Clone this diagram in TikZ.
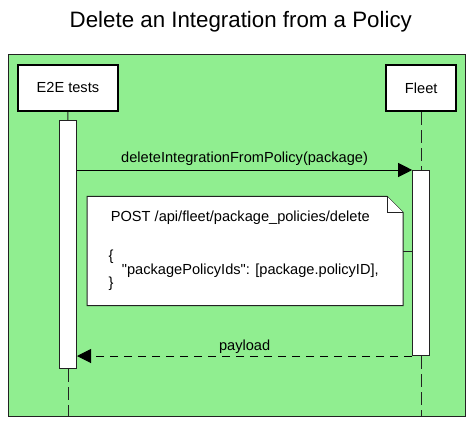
\documentclass[tikz,border=0pt]{standalone}
\usepackage{fontspec}
\setmainfont{Liberation Sans}
\usetikzlibrary{arrows.meta}
\definecolor{bggreen}{HTML}{90EE90}
\definecolor{ln}{HTML}{222222}
\begin{document}
\begin{tikzpicture}[x=1pt,y=-1pt,
  txt/.style={font=\fontsize{14.6}{17}\selectfont, inner sep=0pt},
  header/.style={draw=black, line width=2.3pt, fill=white, inner sep=0pt,
    minimum height=46pt, font=\fontsize{14.6}{17}\selectfont},
  actbox/.style={draw=ln, line width=1pt, fill=white, inner sep=0pt, minimum width=17pt},
  lifeline/.style={draw=ln, line width=1pt, dash pattern=on 13pt off 5pt},
  msg/.style={draw=black, line width=1pt, -{Triangle[length=14pt,width=14pt]}},
  ret/.style={msg, dash pattern=on 8pt off 6pt},
  notebox/.style={draw=ln, line width=1pt, fill=white}
]
\useasboundingbox (0,0) rectangle (474,426);
% title
\node (title) [anchor=base, inner sep=0pt, font=\fontsize{22.3}{26}\selectfont] at (240.8,27.7) {Delete an Integration from a Policy};
% frame
\node (frame) [draw=ln, line width=1pt, fill=bggreen, inner sep=0pt,
  minimum width=456.7pt, minimum height=362pt] at (236.85,235.5) {};
% headers
\node (e2e) [header, minimum width=100pt] at (67.9,87.9) {E2E tests};
\node (fleet) [header, minimum width=70pt] at (421.2,88) {Fleet};
% activations
\node (e2eact) [actbox, minimum height=247.7pt] at (68,244.7) {};
\node (fleetact) [actbox, minimum height=185pt] at (421.2,263) {};
% lifelines
\draw[lifeline] (e2e.south) -- (e2eact.north);
\draw[lifeline] (e2eact.south) -- (e2eact.south |- frame.south);
\draw[lifeline] (fleet.south) -- (fleetact.north);
\draw[lifeline] (fleetact.south) -- (fleetact.south |- frame.south);
% note
\node (note) [inner sep=0pt, minimum width=315.6pt, minimum height=109pt] at (245,251) {};
\draw[notebox] (note.north west) -- ([xshift=-16pt]note.north east) -- ([yshift=-16pt]note.north east) -- (note.south east) -- (note.south west) -- cycle;
\draw[ln, line width=1pt, fill=white] ([xshift=-16pt]note.north east) -- ([xshift=-16pt,yshift=-16pt]note.north east) -- ([yshift=-16pt]note.north east);
\draw[draw=ln, line width=1pt] (note.east) -- (fleetact.west |- note.east);
\node (n1) [txt, anchor=base west] at (110.7,221) {POST /api/fleet/package\_policies/delete};
\node (n2) [txt, anchor=base west] at (108.3,260.3) {\{};
\node (n3) [txt, anchor=base west] at (121.7,274.8) {\textquotedbl packagePolicyIds\textquotedbl: [package.policyID],};
\node (n4) [txt, anchor=base west] at (108.3,287.5) {\}};
% messages
\draw[msg] (e2eact.east |- fleetact.north) -- node[txt, midway, anchor=base, yshift=7.3pt] (m1) {deleteIntegrationFromPolicy(package)} (fleetact.north west);
\draw[ret] (fleetact.south west) -- node[txt, midway, anchor=base, yshift=6pt] (m2) {payload} (e2eact.east |- fleetact.south);
\end{tikzpicture}
\end{document}
